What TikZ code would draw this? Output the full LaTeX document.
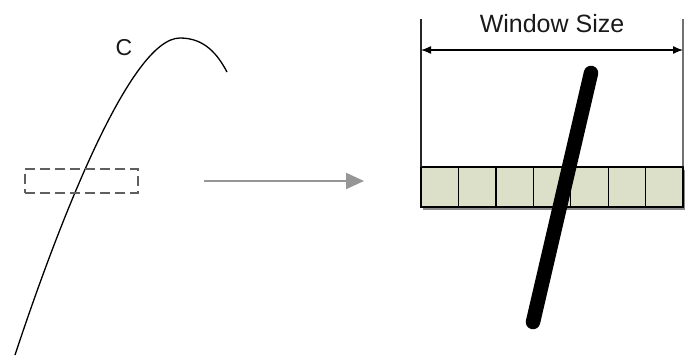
\documentclass[tikz,border=0pt]{standalone}
\usepackage{fontspec}
\setmainfont{Liberation Sans}
\usetikzlibrary{arrows.meta}
\definecolor{cellfill}{RGB}{221,224,200}
\definecolor{boxgray}{RGB}{95,95,95}
\definecolor{arrowgray}{RGB}{150,150,150}
\begin{document}
\begin{tikzpicture}[x=1pt,y=-1pt,
  curve/.style={line width=1.3pt, black},
  lens/.style={draw=boxgray, dashed, dash pattern=on 10pt off 5pt, line width=2pt,
    minimum width=113pt, minimum height=24pt, inner sep=0pt},
  flow/.style={draw=arrowgray, line width=2pt, -{Triangle[length=18pt,width=16pt]}},
  cellbox/.style={draw=black, line width=1.3pt, fill=cellfill,
    minimum width=37.43pt, minimum height=40pt, inner sep=0pt, outer sep=0pt},
  rule/.style={line width=1.2pt, black!85},
  span/.style={line width=1.3pt, {Latex[length=10pt,width=8pt]}-{Latex[length=10pt,width=8pt]}},
  lbl/.style={inner sep=0pt, text=black!90},
  stroke/.style={line width=14.5pt, line cap=round}]
\useasboundingbox (0,0) rectangle (685,356);

% curve C
\draw[curve] (15,355) .. controls (58,225) and (130,38) .. (180,38)
  .. controls (205,38) and (218,55) .. (227,72);
\node[lbl, font=\fontsize{23}{23}\selectfont] (clabel) at (124,48) {C};

% dashed sampling box
\node[lens] (sample) at (81.5,180.5) {};

% transfer arrow
\coordinate (from) at (204,181);
\coordinate (to) at (364,181);
\draw[flow] (from) -- (to);

% window cells with shadow
\fill[black!45] (423,170) rectangle (685,209.5);
\foreach \i in {0,...,6}{
  \node[cellbox] (c\i) at ({421+37.43*\i+18.715},187) {};
}

% window bounds and size arrow
\coordinate (ltop) at (421,19);
\coordinate (rtop) at (683,19);
\draw[rule] (ltop) -- (c0.north west);
\draw[rule] (rtop) -- (c6.north east);
\coordinate (wl) at (421,50);
\coordinate (wr) at (683,50);
\draw[span] (wl) -- (wr);
\node[lbl, font=\fontsize{25}{25}\selectfont, anchor=base] (wsize) at (552,32) {Window Size};

% thick crossing stroke
\coordinate (st) at (591,73);
\coordinate (sb) at (533,322);
\draw[stroke] (st) -- (sb);
\end{tikzpicture}
\end{document}
